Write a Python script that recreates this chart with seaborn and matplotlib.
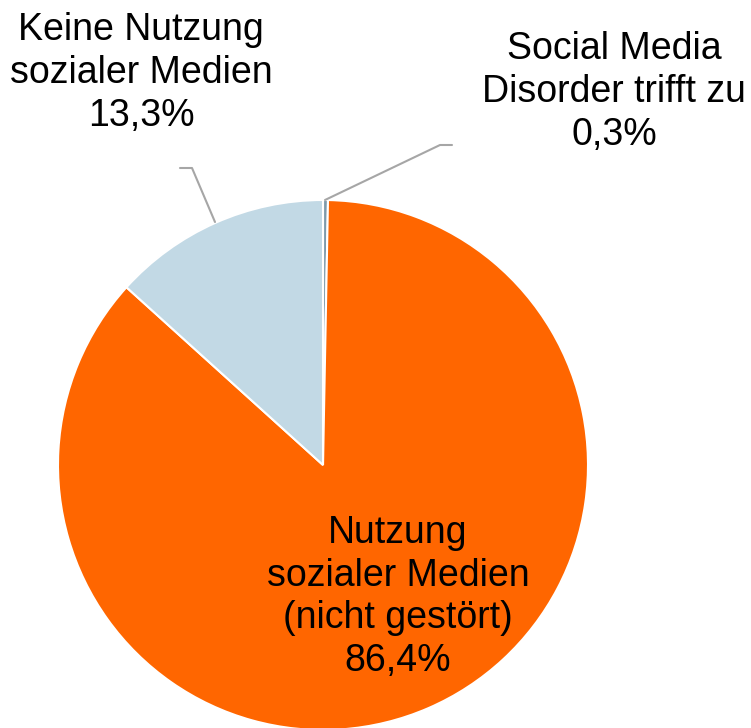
import seaborn as sns
import matplotlib.pyplot as plt

# Anteile (Prozent), im Uhrzeigersinn ab 12 Uhr
labels = ["Social Media\nDisorder trifft zu", "Nutzung\nsozialer Medien\n(nicht gestört)", "Keine Nutzung\nsozialer Medien"]
values = [0.3, 86.4, 13.3]
value_labels = ["0,3%", "86,4%", "13,3%"]
colors = ["#7f9aab", "#ff6600", "#c2d9e5"]

sns.set_theme(style="white")
plt.rcParams['font.family'] = ['Liberation Sans', 'DejaVu Sans']

fig = plt.figure(figsize=(7.51, 7.28), dpi=100)
ax = fig.add_axes([0, 0, 1, 1])

# pie in pixel-like coordinates (y up)
ax.pie(values, colors=colors, startangle=90, counterclock=False,
       center=(323, 728 - 465), radius=265,
       wedgeprops=dict(edgecolor="white", linewidth=1.5))
ax.set_xlim(0, 751)
ax.set_ylim(0, 728)
ax.set_aspect("equal")
ax.axis("off")

fs = 27
ls = 1.24
# leader lines
ax.plot([325, 440, 452], [728 - 200, 728 - 145, 728 - 145], color="#a6a6a6", lw=1.5)
ax.plot([215, 192, 180], [728 - 222, 728 - 168, 728 - 168], color="#a6a6a6", lw=1.5)

ax.text(614, 728 - 92, f"{labels[0]}\n{value_labels[0]}", ha="center", va="center",
        fontsize=fs, linespacing=ls, color="black")
ax.text(398, 728 - 597, f"{labels[1]}\n{value_labels[1]}", ha="center", va="center",
        fontsize=fs, linespacing=ls, color="black")
ax.text(141, 728 - 73, f"{labels[2]}\n{value_labels[2]}", ha="center", va="center",
        fontsize=fs, linespacing=ls, color="black")

fig.savefig("out.png", dpi=100)
